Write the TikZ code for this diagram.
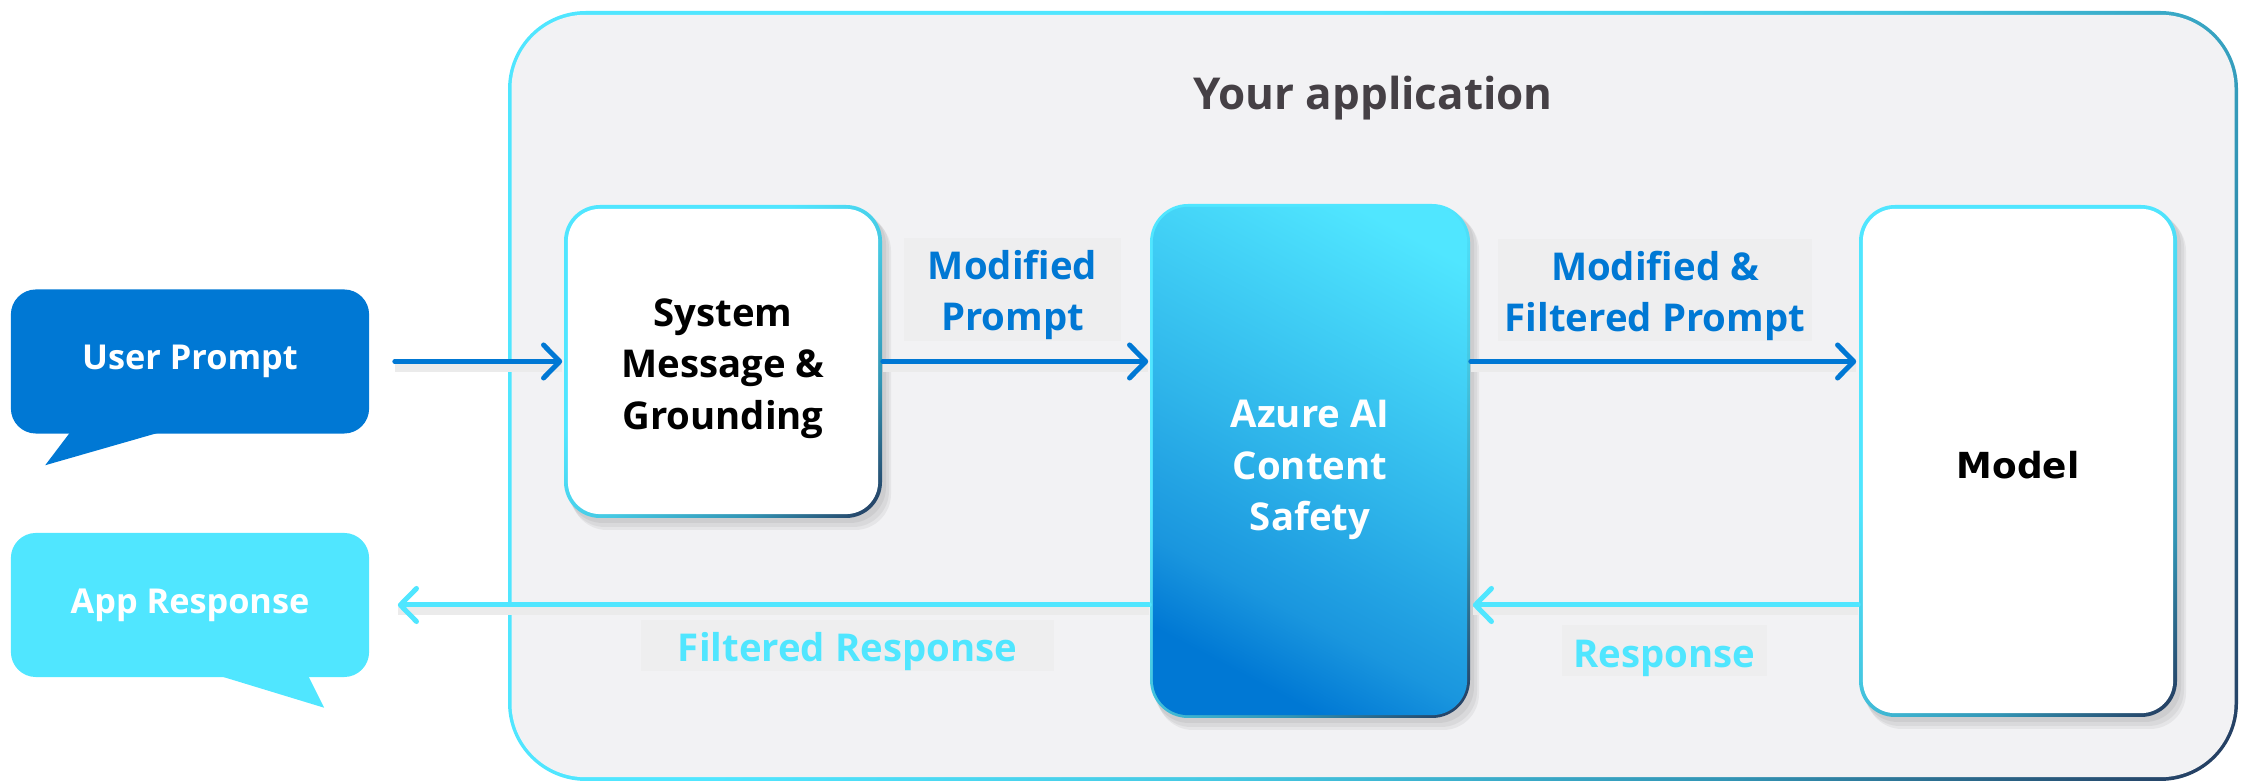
\documentclass[tikz,border=0pt]{standalone}
\usepackage{fontspec}
\setmainfont{Open Sans}
\newfontfamily\modelfont{DejaVu Sans}
\usetikzlibrary{arrows.meta,calc}
\definecolor{azblue}{HTML}{0078D4}
\definecolor{azcyan}{HTML}{50E6FF}
\definecolor{aznavy}{HTML}{243A5E}
\definecolor{azteal}{HTML}{3295B5}
\definecolor{azmid}{HTML}{45C8E2}
\definecolor{appbg}{HTML}{F2F2F4}
\definecolor{lblbg}{HTML}{EEEEEF}
\definecolor{titlegray}{HTML}{454045}
\definecolor{gA}{HTML}{2FB5EA}
\definecolor{gB}{HTML}{1A96DE}
\pgfdeclarehorizontalshading{bordergrad}{100bp}{color(0bp)=(azcyan); color(40bp)=(azcyan); color(55bp)=(azmid); color(70bp)=(azteal); color(85bp)=(aznavy); color(100bp)=(aznavy)}
\pgfdeclarehorizontalshading{azgrad}{100bp}{color(0bp)=(azcyan); color(22bp)=(azcyan); color(50bp)=(gA); color(66bp)=(gB); color(75bp)=(azblue); color(100bp)=(azblue)}
\tikzset{
  boxtext/.style={font=\bfseries\fontsize{10.9}{14.6}\selectfont, align=center, inner sep=0pt},
  whitebox/.style={rectangle, fill=white, rounded corners=0.32cm, inner sep=0pt},
  bubble/.style={boxtext, font=\bfseries\fontsize{9.75}{12}\selectfont, rectangle, rounded corners=0.25cm, text=white, minimum width=3.58cm, minimum height=1.44cm},
  lblbox/.style={fill=lblbg},
  bordershade/.style={shading=bordergrad, shading angle=-45, rounded corners=0.36cm},
  softshadow/.style={fill=black, opacity=0.05, rounded corners=0.36cm},
  arr/.style={line width=1.42pt, line cap=round, -{Straight Barb[length=4.6pt, width=9.4pt, round]},
     preaction={draw=black!8, line width=2.4pt, -, transform canvas={yshift=-1.7pt}}},
}
\begin{document}
\begin{tikzpicture}[x=0.01cm, y=-0.01cm]
\useasboundingbox (0,0) rectangle (2249,783);

% container frame
\coordinate (appNW) at (508,11);
\coordinate (appSE) at (2238,781);
\shade[shading=bordergrad, shading angle=-40, rounded corners=0.78cm] (appNW) rectangle (appSE);
\node[rectangle, fill=appbg, rounded corners=0.74cm, minimum width=17.22cm, minimum height=7.62cm, inner sep=0pt] (app) at ($(appNW)!0.5!(appSE)$) {};
\node[font=\bfseries\fontsize{12.5}{15}\selectfont, text=titlegray] (title) at (1373,98) {Your application};

% bubbles
\node[bubble, fill=azblue] (user) at (190,361.5) {User Prompt};
\fill[azblue] ($(user.south west)+(60,-2)$) -- ($(user.south west)+(35,31)$) -- ($(user.south west)+(150,-2)$) -- cycle;
\node[bubble, fill=azcyan] (resp) at (190,605) {App Response};
\fill[azcyan] ($(resp.south west)+(209,-2)$) -- ($(resp.south west)+(314,30)$) -- ($(resp.south west)+(298,-2)$) -- cycle;

% box frames (gradient borders with soft shadow)
\coordinate (sysNW) at (564,205);  \coordinate (sysSE) at (882,518);
\coordinate (azNW) at (1150,204);  \coordinate (azSE) at (1470,718);
\coordinate (modNW) at (1859,205); \coordinate (modSE) at (2177,717);
\foreach \a/\b in {sysNW/sysSE, azNW/azSE, modNW/modSE}{
  \fill[softshadow] ([shift={(3,4)}]\a) rectangle ([shift={(4,5)}]\b);
  \fill[softshadow] ([shift={(5,7)}]\a) rectangle ([shift={(7,9)}]\b);
  \fill[softshadow] ([shift={(7,10)}]\a) rectangle ([shift={(9,12)}]\b);
}
\shade[bordershade] (sysNW) rectangle (sysSE);
\shade[bordershade, rounded corners=0.38cm] (azNW) rectangle (azSE);
\shade[bordershade] (modNW) rectangle (modSE);

% boxes
\node[whitebox, minimum width=3.10cm, minimum height=3.05cm] (sys) at ($(sysNW)!0.5!(sysSE)$) {};
\node[rectangle, inner sep=0pt, rounded corners=0.35cm, minimum width=3.14cm, minimum height=5.08cm,
      shading=azgrad, shading angle=-118] (az) at ($(azNW)!0.5!(azSE)$) {};
\node[whitebox, minimum width=3.10cm, minimum height=5.04cm] (model) at ($(modNW)!0.5!(modSE)$) {};
\node[boxtext, text=black] (sysT) at ([yshift=-0.07cm]sys.center) {System\\Message \&\\Grounding};
\node[boxtext, text=white] (azT) at ([yshift=-0.09cm]az.center) {Azure AI\\Content\\Safety};
\node[font=\modelfont\bfseries\fontsize{10.2}{12}\selectfont, text=black, inner sep=0pt] (modelT) at ([yshift=-0.04cm]model.center) {Model};

% labels
\fill[lblbox] (904,238) rectangle (1121,341);
\fill[lblbox] (1498,239) rectangle (1812,341);
\fill[lblbox] (641,620) rectangle (1054,671);
\fill[lblbox] (1562,625) rectangle (1767,676);
\node[boxtext, text=azblue] (l1) at (1012.5,295) {Modified\\Prompt};
\node[boxtext, text=azblue] (l2) at (1655,296) {Modified \&\\Filtered Prompt};
\node[boxtext, text=azcyan] (l3) at (847.5,652) {Filtered Response};
\node[boxtext, text=azcyan] (l4) at (1664.5,658) {Response};

% connectors
\draw[arr, draw=azblue] ([xshift=0.25cm]user.east) -- ([xshift=-0.05cm]sys.west);
\draw[arr, draw=azblue] ([xshift=0.04cm]sys.east) -- ([xshift=-0.04cm]az.west |- sys.east);
\draw[arr, draw=azblue] ([xshift=0.03cm]az.east |- sys.east) -- ([xshift=-0.06cm]model.west |- sys.east);
\draw[arr, draw=azcyan] ([xshift=-0.04cm]model.west |- resp.east) -- ([xshift=0.05cm]az.east |- resp.east);
\draw[arr, draw=azcyan] ([xshift=-0.03cm]az.west |- resp.east) -- ([xshift=0.28cm]resp.east);
\end{tikzpicture}
\end{document}
